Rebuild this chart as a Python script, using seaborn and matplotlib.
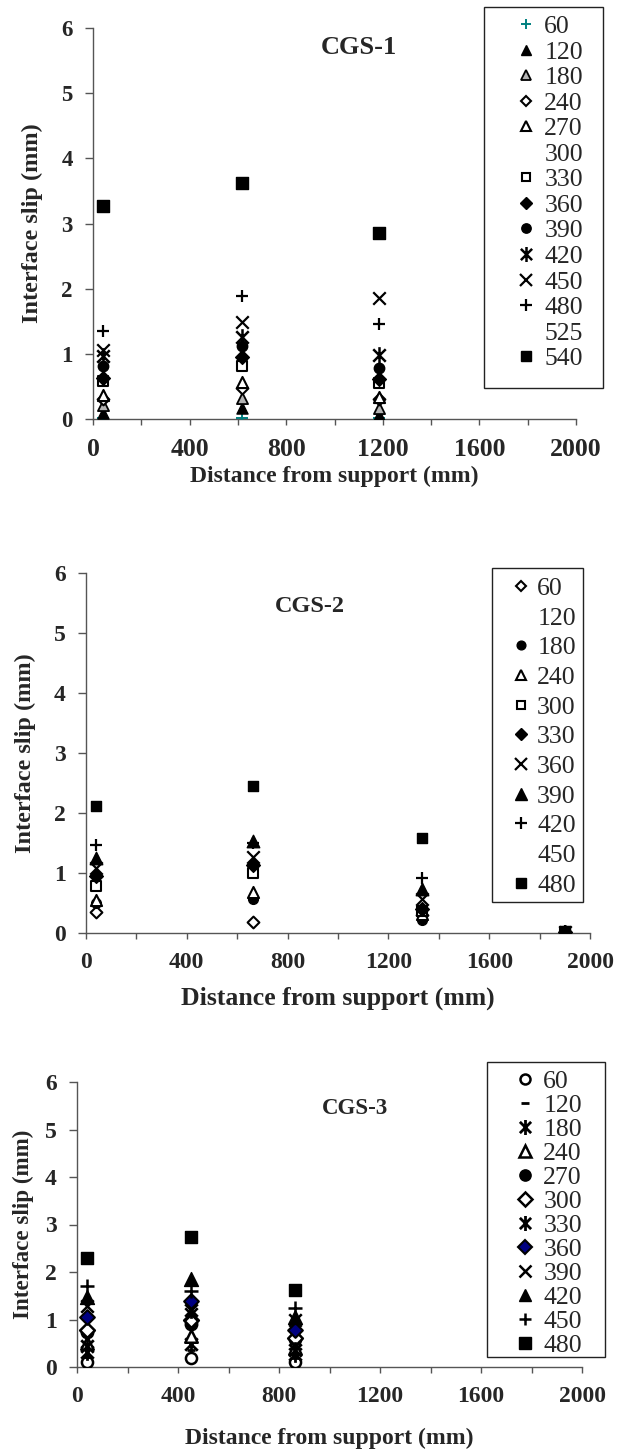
import numpy as np
import pandas as pd
import matplotlib
matplotlib.use("Agg")
import matplotlib.pyplot as plt
import seaborn as sns
from matplotlib.path import Path
from matplotlib.lines import Line2D
from matplotlib.patches import Rectangle

sns.set_theme(style="white")
plt.rcParams['font.family'] = ['Liberation Serif', 'DejaVu Serif']

# ---------------- data ----------------
# CGS-1
cgs1_x = [40, 615, 1185]
cgs1_loads = ["60", "120", "180", "240", "270", "300", "330", "360", "390", "420", "450", "480", "525", "540"]
cgs1_60 = [0.01, 0.02, 0.01]
cgs1_120 = [0.09, 0.17, 0.06]
cgs1_180 = [0.21, 0.32, 0.17]
cgs1_240 = [0.30, 0.48, 0.30]
cgs1_270 = [0.37, 0.57, 0.34]
cgs1_330 = [0.58, 0.82, 0.55]
cgs1_360 = [0.63, 0.95, 0.61]
cgs1_390 = [0.81, 1.12, 0.79]
cgs1_420 = [0.96, 1.26, 0.98]
cgs1_450 = [1.06, 1.49, 1.86]
cgs1_480 = [1.35, 1.88, 1.46]
cgs1_540 = [3.27, 3.62, 2.86]

# CGS-2
cgs2_x = [40, 663, 1333, 1900]
cgs2_loads = ["60", "120", "180", "240", "300", "330", "360", "390", "420", "450", "480"]
cgs2_60 = [0.35, 0.19, 0.30, 0.01]
cgs2_180 = [0.50, 0.57, 0.22, 0.01]
cgs2_240 = [0.55, 0.68, 0.32, 0.01]
cgs2_300 = [0.79, 1.00, 0.36, 0.02]
cgs2_330 = [0.95, 1.14, 0.40, 0.02]
cgs2_360 = [1.08, 1.27, 0.56, 0.02]
cgs2_390 = [1.25, 1.54, 0.74, 0.02]
cgs2_420 = [1.46, 1.50, 0.92, 0.03]
cgs2_480 = [2.12, 2.45, 1.59, 0.03]

# CGS-3
cgs3_x = [40, 451, 863]
cgs3_loads = ["60", "120", "180", "240", "270", "300", "330", "360", "390", "420", "450", "480"]
cgs3_60 = [0.10, 0.19, 0.10]
cgs3_120 = [0.22, 0.35, 0.18]
cgs3_180 = [0.31, 0.49, 0.28]
cgs3_240 = [0.50, 0.66, 0.40]
cgs3_270 = [0.73, 0.91, 0.59]
cgs3_300 = [0.78, 1.00, 0.62]
cgs3_330 = [0.45, 1.20, 0.35]
cgs3_360 = [1.05, 1.40, 0.78]
cgs3_390 = [1.28, 1.12, 0.98]
cgs3_420 = [1.47, 1.85, 1.05]
cgs3_450 = [1.71, 1.60, 1.24]
cgs3_480 = [2.29, 2.74, 1.63]

x_ticks = [0, 400, 800, 1200, 1600, 2000]
y_ticks = [0, 1, 2, 3, 4, 5, 6]

# ---------------- styles ----------------
ASTER = Path([(0, -1), (0, 1), (-0.75, -0.75), (0.75, 0.75), (-0.75, 0.75), (0.75, -0.75)],
             [Path.MOVETO, Path.LINETO] * 3)

GRAY = "#b3b3b3"
NAVY = "#000080"
TEAL = "#008080"


def sty(m, face, edge, ms, mew, filled=True):
    return dict(m=m, face=face, edge=edge, ms=ms, mew=mew, filled=filled)


style1 = {
    "60": sty("+", None, TEAL, 8, 1.4, False),
    "120": sty("^", "black", "black", 8, 1.0),
    "180": sty("^", GRAY, "black", 8, 1.3),
    "240": sty("D", "white", "black", 6, 1.5),
    "270": sty("^", "white", "black", 8, 1.5),
    "300": None,
    "330": sty("s", "white", "black", 6.5, 1.5),
    "360": sty("D", "black", "black", 7, 1.0),
    "390": sty("o", "black", "black", 7.5, 1.0),
    "420": sty(ASTER, "black", "black", 12, 1.8),
    "450": sty("x", None, "black", 9, 1.6, False),
    "480": sty("+", None, "black", 9, 1.6, False),
    "525": None,
    "540": sty("s", "black", "black", 8, 1.0),
}
data1 = {"60": cgs1_60, "120": cgs1_120, "180": cgs1_180, "240": cgs1_240, "270": cgs1_270,
         "330": cgs1_330, "360": cgs1_360, "390": cgs1_390, "420": cgs1_420, "450": cgs1_450,
         "480": cgs1_480, "540": cgs1_540}

style2 = {
    "60": sty("D", "white", "black", 6, 1.5),
    "120": None,
    "180": sty("o", "black", "black", 7, 1.0),
    "240": sty("^", "white", "black", 8, 1.5),
    "300": sty("s", "white", "black", 6.5, 1.5),
    "330": sty("D", "black", "black", 7, 1.0),
    "360": sty("x", None, "black", 9, 1.6, False),
    "390": sty("^", "black", "black", 9, 1.0),
    "420": sty("+", None, "black", 9, 1.6, False),
    "450": None,
    "480": sty("s", "black", "black", 7.5, 1.0),
}
data2 = {"60": cgs2_60, "180": cgs2_180, "240": cgs2_240, "300": cgs2_300, "330": cgs2_330,
         "360": cgs2_360, "390": cgs2_390, "420": cgs2_420, "480": cgs2_480}

style3 = {
    "60": sty("o", "white", "black", 8, 1.8),
    "120": sty("_", None, "black", 6, 2.0, False),
    "180": sty(ASTER, "black", "black", 12, 2.0),
    "240": sty("^", "white", "black", 9, 1.8),
    "270": sty("o", "black", "black", 9, 1.0),
    "300": sty("D", "white", "black", 7.5, 1.8),
    "330": sty(ASTER, "black", "black", 12, 2.0),
    "360": sty("D", NAVY, "black", 7.5, 1.5),
    "390": sty("x", None, "black", 9, 1.8, False),
    "420": sty("^", "black", "black", 10, 1.0),
    "450": sty("+", None, "black", 10, 1.8, False),
    "480": sty("s", "black", "black", 9, 1.0),
}
data3 = {"60": cgs3_60, "120": cgs3_120, "180": cgs3_180, "240": cgs3_240, "270": cgs3_270,
         "300": cgs3_300, "330": cgs3_330, "360": cgs3_360, "390": cgs3_390, "420": cgs3_420,
         "450": cgs3_450, "480": cgs3_480}

W, H = 626, 1450
fig = plt.figure(figsize=(W / 100, H / 100), dpi=100)


def px_axes(l, t, r, b):
    return [l / W, 1 - b / H, (r - l) / W, (b - t) / H]


def draw_panel(box, xs, data, styles, loads, title, tcenter, tsize,
               ytsize, xtsize, ylab_x, ylab_size, xlab_y, xlab_size,
               leg_rect, leg_anchor, leg_spacing, leg_htp):
    l, t, r, b = box
    ax = fig.add_axes(px_axes(*box))
    for lab in loads:
        st = styles[lab]
        if st is None or lab not in data:
            continue
        df = pd.DataFrame({"x": xs, "y": data[lab]})
        s = st["ms"] ** 2
        if st["filled"]:
            sns.scatterplot(data=df, x="x", y="y", ax=ax, marker=st["m"], s=s,
                            color=st["face"], edgecolor=st["edge"], linewidth=st["mew"],
                            zorder=3, legend=False)
        else:
            sns.scatterplot(data=df, x="x", y="y", ax=ax, marker=st["m"], s=s,
                            color=st["edge"], linewidth=st["mew"], zorder=3, legend=False)
    ax.set_xlim(0, 2000)
    ax.set_ylim(0, 6)
    ax.set_xticks(x_ticks)
    ax.set_xticks(np.arange(0, 2001, 200), minor=True)
    ax.set_yticks(y_ticks)
    ax.set_xticklabels([str(v) for v in x_ticks], fontsize=xtsize, fontweight="bold")
    ax.set_yticklabels([str(v) for v in y_ticks], fontsize=ytsize, fontweight="bold")
    for sp in ["top", "right"]:
        ax.spines[sp].set_visible(False)
    for sp in ["left", "bottom"]:
        ax.spines[sp].set_color("#555555")
        ax.spines[sp].set_linewidth(1.0)
    ax.tick_params(axis="y", which="major", direction="out", length=5.5, width=1,
                   color="#555555", pad=9, left=True)
    ax.tick_params(axis="x", which="both", direction="out", length=4.5, width=1,
                   color="#555555", pad=9, bottom=True)
    ax.set_xlabel("Distance from support (mm)", fontsize=xlab_size, fontweight="bold")
    ax.set_ylabel("Interface slip (mm)", fontsize=ylab_size, fontweight="bold")
    ax.xaxis.set_label_coords(0.5, -(xlab_y - b) / (b - t))
    ax.xaxis.label.set_va("center")
    ax.yaxis.set_label_coords(-(l - ylab_x) / (r - l), 0.5)
    ax.yaxis.label.set_va("center")
    ax.text(tcenter[0] / W, 1 - tcenter[1] / H, title, transform=fig.transFigure,
            ha="center", va="center", fontsize=tsize, fontweight="bold")
    # legend
    handles = []
    for lab in loads:
        st = styles[lab]
        if st is None:
            handles.append(Line2D([], [], linestyle="none", marker="None"))
        elif st["filled"]:
            handles.append(Line2D([], [], linestyle="none", marker=st["m"], markersize=st["ms"] * 0.9,
                                  markerfacecolor=st["face"], markeredgecolor=st["edge"],
                                  markeredgewidth=st["mew"]))
        else:
            handles.append(Line2D([], [], linestyle="none", marker=st["m"], markersize=st["ms"] * 0.9,
                                  color=st["edge"], markeredgewidth=st["mew"]))
    fig.legend(handles, loads, loc="upper left",
               bbox_to_anchor=(leg_anchor[0] / W, 1 - leg_anchor[1] / H),
               frameon=False, fontsize=18.5, handlelength=0.8, handletextpad=leg_htp,
               labelspacing=leg_spacing, borderpad=0, borderaxespad=0, handleheight=0.7)
    x0, y0, x1, y1 = leg_rect
    fig.patches.append(Rectangle((x0 / W, 1 - y1 / H), (x1 - x0) / W, (y1 - y0) / H,
                                 transform=fig.transFigure, facecolor="none",
                                 edgecolor="#222222", linewidth=1.0))
    return ax


draw_panel((93, 28, 576, 419), cgs1_x, data1, style1, cgs1_loads, "CGS-1", (359, 48), 19,
           16.5, 18.5, 32, 17.5, 476, 17,
           (484, 7, 603, 388), (516, 15), 0.1, 0.3)

draw_panel((86, 573, 590, 933), cgs2_x, data2, style2, cgs2_loads, "CGS-2", (310, 607), 17.5,
           17, 17, 25, 17.5, 998, 18.5,
           (492, 568, 583, 902), (511, 577), 0.26, 0.22)

draw_panel((77, 1082, 582, 1367), cgs3_x, data3, style3, cgs3_loads, "CGS-3", (355, 1108), 16.5,
           17, 17, 23, 16.6, 1438, 17,
           (487, 1062, 605, 1357), (515, 1070), 0.04, 0.3)

fig.savefig("out.png", dpi=100)
